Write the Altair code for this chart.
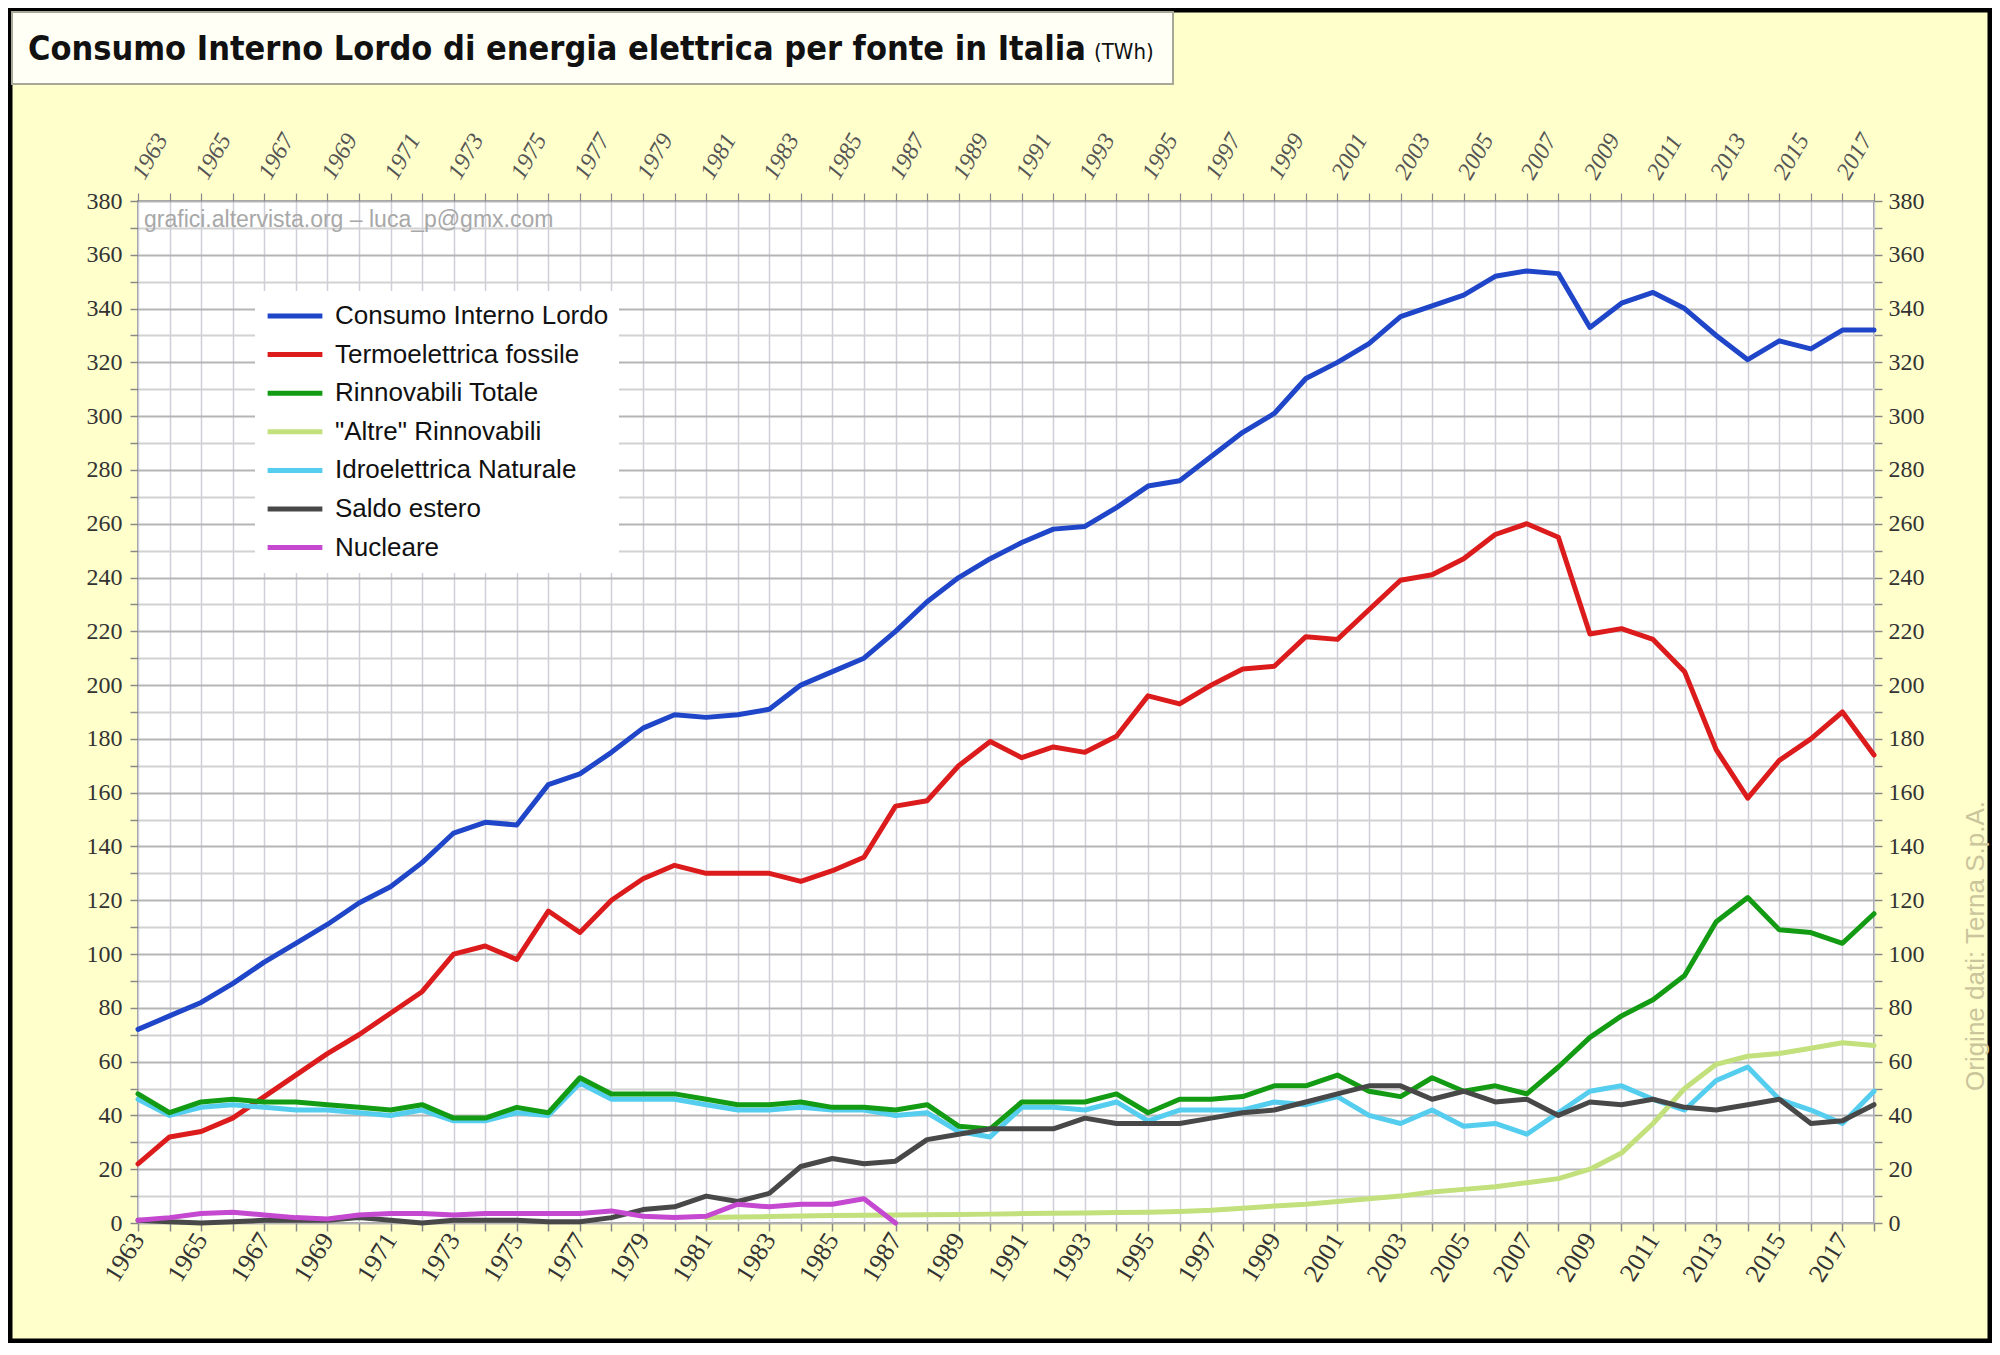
import altair as alt
import pandas as pd

years = list(range(1963, 2019))

consumo = [72, 77, 82, 89, 97, 104, 111, 119, 125, 134,
           145, 149, 148, 163, 167, 175, 184, 189, 188, 189,
           191, 200, 205, 210, 220, 231, 240, 247, 253, 258,
           259, 266, 274, 276, 285, 294, 301, 314, 320, 327,
           337, 341, 345, 352, 354, 353, 333, 342, 346, 340,
           330, 321, 328, 325, 332, 332]
termo = [22, 32, 34, 39, 47, 55, 63, 70, 78, 86,
         100, 103, 98, 116, 108, 120, 128, 133, 130, 130,
         130, 127, 131, 136, 155, 157, 170, 179, 173, 177,
         175, 181, 196, 193, 200, 206, 207, 218, 217, 228,
         239, 241, 247, 256, 260, 255, 219, 221, 217, 205,
         176, 158, 172, 180, 190, 174]
rinnovabili = [48, 41, 45, 46, 45, 45, 44, 43, 42, 44,
               39, 39, 43, 41, 54, 48, 48, 48, 46, 44,
               44, 45, 43, 43, 42, 44, 36, 35, 45, 45,
               45, 48, 41, 46, 46, 47, 51, 51, 55, 49,
               47, 54, 49, 51, 48, 58, 69, 77, 83, 92,
               112, 121, 109, 108, 104, 115]
idro = [46, 40, 43, 44, 43, 42, 42, 41, 40, 42,
        38, 38, 41, 40, 52, 46, 46, 46, 44, 42,
        42, 43, 42, 42, 40, 41, 34, 32, 43, 43,
        42, 45, 38, 42, 42, 42, 45, 44, 47, 40,
        37, 42, 36, 37, 33, 41, 49, 51, 46, 42,
        53, 58, 46, 42, 37, 49]
saldo = [1, 0.5, 0, 0.5, 1, 1, 1, 2, 1, 0,
         1, 1, 1, 0.5, 0.5, 2, 5, 6, 10, 8,
         11, 21, 24, 22, 23, 31, 33, 35, 35, 35,
         39, 37, 37, 37, 39, 41, 42, 45, 48, 51,
         51, 46, 49, 45, 46, 40, 45, 44, 46, 43,
         42, 44, 46, 37, 38, 44]
nucleare = [1, 2, 3.5, 4, 3, 2, 1.5, 3, 3.5, 3.5,
            3, 3.5, 3.5, 3.5, 3.5, 4.5, 2.5, 2, 2.5, 7,
            6, 7, 7, 9, 0] + [None] * 31
altre = [None] * 18 + [2.0, 2.2, 2.4, 2.6, 2.8, 2.9, 3.0, 3.1, 3.2, 3.3,
                       3.5, 3.6, 3.7, 3.9, 4.0, 4.3, 4.7, 5.5, 6.3, 7.0,
                       8.0, 9.0, 10.0, 11.5, 12.5, 13.5, 15.0, 16.5, 20.0, 26.0,
                       37, 50, 59, 62, 63, 65, 67, 66]

legend_order = ["Consumo Interno Lordo", "Termoelettrica fossile", "Rinnovabili Totale",
                "\"Altre\" Rinnovabili", "Idroelettrica Naturale", "Saldo estero", "Nucleare"]
colors = ["#1f45c8", "#dc1c1c", "#139b13", "#c2e07c", "#55cdee", "#484848", "#c548d0"]
widths = [5, 5, 5, 3, 3.5, 4.5, 4.5]

draw_order = [
    ("Consumo Interno Lordo", consumo),
    ("Termoelettrica fossile", termo),
    ("Idroelettrica Naturale", idro),
    ("Rinnovabili Totale", rinnovabili),
    ("\"Altre\" Rinnovabili", altre),
    ("Saldo estero", saldo),
    ("Nucleare", nucleare),
]
rows = []
for name, vals in draw_order:
    for yr, v in zip(years, vals):
        if v is not None:
            rows.append({"anno": yr, "TWh": v, "serie": name})
df = pd.DataFrame(rows)

title_main = "Consumo Interno Lordo di energia elettrica per fonte in Italia"
title_unit = "(TWh)"
watermark = "grafici.altervista.org \u2013 luca_p@gmx.com"
source = "Origine dati: Terna S.p.A."

W, H = 1736, 1022
PAD = {"left": 130, "top": 193, "right": 118, "bottom": 120}

xscale = alt.Scale(domain=[1963, 2018], nice=False, zero=False)
yscale = alt.Scale(domain=[0, 380], nice=False, zero=True)
ygrid_vals = list(range(0, 381, 10))

label_font = "Liberation Serif"

x_bottom = alt.Axis(values=years, format="d", title=None,
                    labelExpr="datum.value % 2 == 1 ? datum.label : ''",
                    labelAngle=302, labelAlign="right", labelBaseline="middle",
                    labelFont=label_font, labelFontSize=26, labelColor="#333333",
                    labelPadding=4, tickSize=8, tickColor="#888888", tickWidth=1.5,
                    grid=True, gridColor="#cfcfdb", gridWidth=1.5, domain=False,
                    labelOverlap=False, labelBound=False, labelFlush=False)
x_top = alt.Axis(values=years, format="d", title=None, orient="top",
                 labelExpr="datum.value % 2 == 1 ? datum.label : ''",
                 labelAngle=300, labelAlign="left", labelBaseline="middle",
                 labelFont=label_font, labelFontSize=24, labelFontStyle="italic",
                 labelColor="#555555", labelPadding=16,
                 tickSize=8, tickColor="#888888", tickWidth=1.2,
                 grid=False, domain=False,
                 labelOverlap=False, labelBound=False, labelFlush=False)
y_left = alt.Axis(values=ygrid_vals, title=None,
                  labelExpr="datum.value % 20 == 0 ? datum.label : ''",
                  labelFont=label_font, labelFontSize=24, labelColor="#333333",
                  labelPadding=8, tickSize=8, tickColor="#888888", tickWidth=1.5,
                  grid=True,
                  gridColor={"condition": {"test": "datum.value % 20 == 0", "value": "#b5b5b5"},
                             "value": "#d2d2d2"},
                  gridWidth=2, domain=False, labelOverlap=False)
y_right = alt.Axis(values=ygrid_vals, title=None, orient="right",
                   labelExpr="datum.value % 20 == 0 ? datum.label : ''",
                   labelFont=label_font, labelFontSize=24, labelColor="#333333",
                   labelPadding=6, tickSize=8, tickColor="#888888", tickWidth=1.5,
                   grid=False, domain=False, labelOverlap=False)

lines = alt.Chart(df).mark_line(strokeJoin="round", strokeCap="round").encode(
    x=alt.X("anno:Q", scale=xscale, axis=x_bottom),
    y=alt.Y("TWh:Q", scale=yscale, axis=y_left),
    color=alt.Color("serie:N", sort=legend_order,
                    scale=alt.Scale(domain=legend_order, range=colors),
                    legend=alt.Legend(orient="none", legendX=117, legendY=90,
                                      title=None, fillColor="white", padding=10,
                                      symbolType="stroke", symbolSize=3000,
                                      symbolStrokeWidth=5, clipHeight=30,
                                      rowPadding=8.6, labelFont="Liberation Sans",
                                      labelFontSize=26, labelColor="#111111",
                                      labelOffset=10, labelLimit=500)),
    strokeWidth=alt.StrokeWidth("serie:N", scale=alt.Scale(domain=legend_order, range=widths),
                                legend=None),
)

ghost = alt.Chart(df).mark_line(opacity=0).encode(
    x=alt.X("anno:Q", scale=xscale, axis=x_top),
    y=alt.Y("TWh:Q", scale=yscale, axis=y_right),
    detail="serie:N",
)

one = pd.DataFrame({"k": [0]})

frame = alt.Chart(one).mark_rect(fill="transparent", stroke="#000000", strokeWidth=5).encode(
    x=alt.value(-128), x2=alt.value(1852), y=alt.value(-191), y2=alt.value(1140))
title_box = alt.Chart(one).mark_rect(fill="#fffff6", stroke="#a8a898", strokeWidth=2).encode(
    x=alt.value(-126), x2=alt.value(1035), y=alt.value(-189), y2=alt.value(-117))

title_df = pd.DataFrame({"t": [title_main]})
unit_df = pd.DataFrame({"t": [title_unit]})
wm_df = pd.DataFrame({"t": [watermark]})
src_df = pd.DataFrame({"t": [source]})

title_txt = alt.Chart(title_df).mark_text(
    align="left", baseline="alphabetic", font="DejaVu Sans Condensed",
    fontWeight="bold", fontSize=34, color="#111111").encode(
    text="t:N", x=alt.value(-110), y=alt.value(-141))
unit_txt = alt.Chart(unit_df).mark_text(
    align="left", baseline="alphabetic", font="DejaVu Sans Condensed",
    fontSize=22, color="#111111").encode(
    text="t:N", x=alt.value(956), y=alt.value(-142))
wm_txt = alt.Chart(wm_df).mark_text(
    align="left", baseline="middle", font="Liberation Sans",
    fontSize=23, color="#a8a8a8").encode(
    text="t:N", x=alt.value(6), y=alt.value(19))
src_txt = alt.Chart(src_df).mark_text(
    align="center", baseline="middle", font="Liberation Sans",
    fontSize=26, color="#cbc59c", angle=270).encode(
    text="t:N", x=alt.value(1838), y=alt.value(745))

chart = alt.layer(
    frame, title_box, lines, ghost, title_txt, unit_txt, wm_txt, src_txt
).resolve_axis(x="independent", y="independent").properties(
    width=W, height=H, padding=PAD,
    autosize=alt.AutoSizeParams(type="none"),
    background="#ffffcc",
).configure_view(fill="white", stroke="#9a9a9a", strokeWidth=2)

chart.save("out.html", embed_options={"renderer": "svg", "actions": False})
